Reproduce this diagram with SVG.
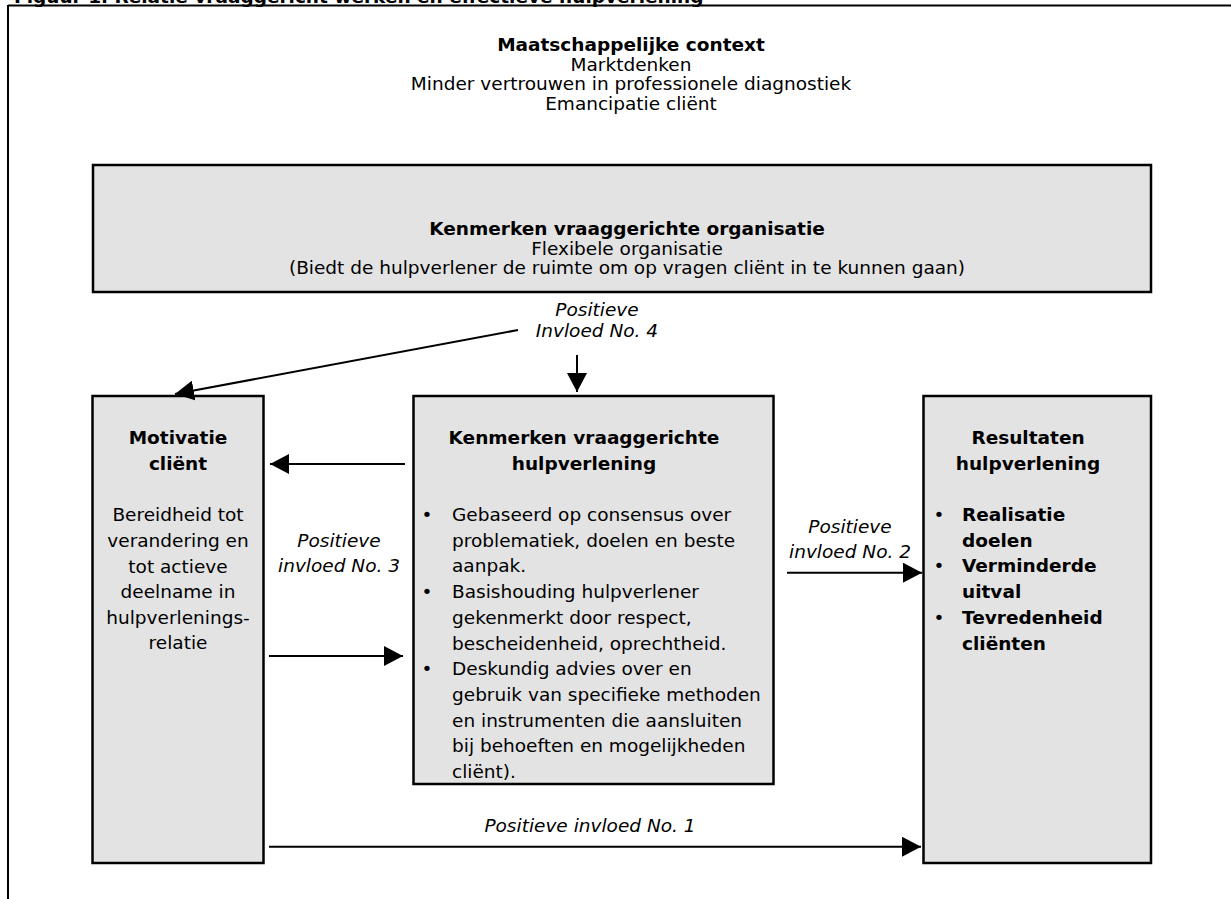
<svg xmlns="http://www.w3.org/2000/svg" width="1231" height="899" viewBox="0 0 1231 899">
<style>
text{font-family:"DejaVu Sans",Verdana,sans-serif;font-size:18.5px;fill:#000}
.b{font-weight:bold}
.i{font-style:italic}
.c{text-anchor:middle}
.box{fill:#e3e3e3;stroke:#000;stroke-width:2.5}
.ln{stroke:#000;stroke-width:2;fill:none}
</style>
<defs>
<marker id="ah" markerWidth="20" markerHeight="20" refX="19" refY="10" orient="auto" markerUnits="userSpaceOnUse">
<path d="M0,0 L19,10 L0,20 Z" fill="#000"/>
</marker>
</defs>
<rect width="1231" height="899" fill="#fff"/>
<text class="b" x="14" y="2.5" font-size="16">Figuur 1. Relatie vraaggericht werken en effectieve hulpverlening</text>
<g id="frame">
<line class="ln" x1="8" y1="5.5" x2="1231" y2="5.5"/>
<line class="ln" x1="8" y1="5" x2="8" y2="899"/>
</g>
<g id="context">
<text class="b c" x="631" y="51">Maatschappelijke context</text>
<text class="c" x="631" y="70.5">Marktdenken</text>
<text class="c" x="631" y="90">Minder vertrouwen in professionele diagnostiek</text>
<text class="c" x="631" y="109.5">Emancipatie cliënt</text>
</g>
<g id="organisatie">
<rect class="box" x="93" y="165" width="1058" height="127"/>
<text class="b c" x="627" y="235">Kenmerken vraaggerichte organisatie</text>
<text class="c" x="627" y="254.5">Flexibele organisatie</text>
<text class="c" x="627" y="274">(Biedt de hulpverlener de ruimte om op vragen cliënt in te kunnen gaan)</text>
</g>
<g id="motivatie">
<rect class="box" x="92.5" y="396" width="171" height="467"/>
<text class="b c" x="178" y="444">Motivatie</text>
<text class="b c" x="178" y="470">cliënt</text>
<text class="c" x="178" y="521">Bereidheid tot</text>
<text class="c" x="178" y="547">verandering en</text>
<text class="c" x="178" y="573">tot actieve</text>
<text class="c" x="178" y="598">deelname in</text>
<text class="c" x="178" y="623.5">hulpverlenings-</text>
<text class="c" x="178" y="649">relatie</text>
</g>
<g id="hulpverlening">
<rect class="box" x="413.5" y="396" width="360" height="388"/>
<text class="b c" x="584" y="444">Kenmerken vraaggerichte</text>
<text class="b c" x="584" y="470">hulpverlening</text>
<text class="c" x="427" y="521">•</text>
<text x="452" y="521">Gebaseerd op consensus over</text>
<text x="452" y="546.7">problematiek, doelen en beste</text>
<text x="452" y="572.4">aanpak.</text>
<text class="c" x="427" y="598.1">•</text>
<text x="452" y="598.1">Basishouding hulpverlener</text>
<text x="452" y="623.8">gekenmerkt door respect,</text>
<text x="452" y="649.5">bescheidenheid, oprechtheid.</text>
<text class="c" x="427" y="675.2">•</text>
<text x="452" y="675.2">Deskundig advies over en</text>
<text x="452" y="700.9">gebruik van specifieke methoden</text>
<text x="452" y="726.6">en instrumenten die aansluiten</text>
<text x="452" y="752.3">bij behoeften en mogelijkheden</text>
<text x="452" y="778">cliënt).</text>
</g>
<g id="resultaten">
<rect class="box" x="923.5" y="396" width="227.5" height="467"/>
<text class="b c" x="1028" y="444">Resultaten</text>
<text class="b c" x="1028" y="469.5">hulpverlening</text>
<text class="c" x="939" y="521">•</text>
<text class="b" x="962" y="521">Realisatie</text>
<text class="b" x="962" y="546.7">doelen</text>
<text class="c" x="939" y="572.4">•</text>
<text class="b" x="962" y="572.4">Verminderde</text>
<text class="b" x="962" y="598.1">uitval</text>
<text class="c" x="939" y="623.8">•</text>
<text class="b" x="962" y="623.8">Tevredenheid</text>
<text class="b" x="962" y="649.5">cliënten</text>
</g>
<g id="connectors">
<line class="ln" x1="518" y1="330" x2="175" y2="394" marker-end="url(#ah)"/>
<line class="ln" x1="577" y1="355" x2="577" y2="392" marker-end="url(#ah)"/>
<line class="ln" x1="405" y1="464" x2="270" y2="464" marker-end="url(#ah)"/>
<line class="ln" x1="269" y1="656" x2="403" y2="656" marker-end="url(#ah)"/>
<line class="ln" x1="787" y1="572.7" x2="922" y2="572.7" marker-end="url(#ah)"/>
<line class="ln" x1="269" y1="846.7" x2="921" y2="846.7" marker-end="url(#ah)"/>
</g>
<g id="labels">
<text class="i c" x="597" y="316">Positieve</text>
<text class="i c" x="597" y="337">Invloed No. 4</text>
<text class="i c" x="339" y="546.7">Positieve</text>
<text class="i c" x="339" y="571.7">invloed No. 3</text>
<text class="i c" x="850" y="533">Positieve</text>
<text class="i c" x="850" y="558">invloed No. 2</text>
<text class="i c" x="590" y="832">Positieve invloed No. 1</text>
</g>
</svg>
